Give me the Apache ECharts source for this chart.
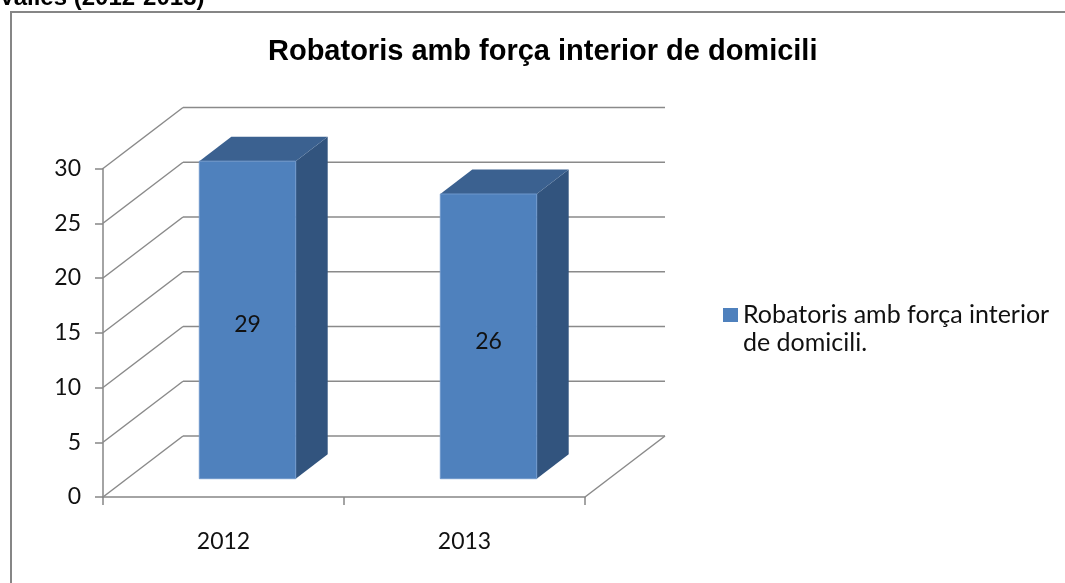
<!DOCTYPE html>
<html>
<head>
<meta charset="utf-8">
<title>Robatoris amb força interior de domicili</title>
<script src="https://cdn.jsdelivr.net/npm/echarts@6/dist/echarts.min.js"></script>
<style>
  html, body { margin: 0; padding: 0; background: #fff; }
  #chart { width: 1065px; height: 583px; }
</style>
</head>
<body>
<div id="chart"></div>
<script>
// dades
var years = ['2012', '2013'];
var robatoris = [29, 26];
var yTicks = [0, 5, 10, 15, 20, 25, 30];
var serieNom = 'Robatoris amb força interior de domicili.';

// perspectiva de la paret del fons (px)
var OX = 80, OY = -61;
var FRONT = 0.3, DEPTH = 0.4, BAR_W = 0.4;

var chart = echarts.init(document.getElementById('chart'));

var wallItem = function (params, api) {
    var cs = params.coordSys;
    var v = api.value(1);
    var y = api.coord([0, v])[1];
    var x0 = cs.x, x1 = cs.x + cs.width;
    var st = { stroke: '#8a8a8a', lineWidth: 1.5 };
    var kids = [
        { type: 'line', shape: { x1: x0, y1: y, x2: x0 + OX, y2: y + OY }, style: st },
        { type: 'line', shape: { x1: x0 + OX, y1: y + OY, x2: x1 + OX, y2: y + OY }, style: st }
    ];
    if (v === 0) {
        kids.push({ type: 'line', shape: { x1: x1, y1: y, x2: x1 + OX, y2: y + OY }, style: st });
    }
    return { type: 'group', children: kids };
};

var barItem = function (params, api) {
    var idx = api.value(0);
    var v = api.value(1);
    var cx = api.coord([idx, 0])[0];
    var bw = api.size([1, 0])[0];
    var yb = api.coord([idx, 0])[1] + FRONT * OY;
    var yt = api.coord([idx, v])[1] + FRONT * OY;
    var xl = cx - bw * BAR_W / 2 + FRONT * OX;
    var xr = cx + bw * BAR_W / 2 + FRONT * OX;
    var dx = DEPTH * OX, dy = DEPTH * OY;
    return {
        type: 'group',
        children: [
            { type: 'polygon', shape: { points: [[xr, yt], [xr + dx, yt + dy], [xr + dx, yb + dy], [xr, yb]] },
              style: { fill: '#32547e' } },
            { type: 'polygon', shape: { points: [[xl, yt], [xr, yt], [xr + dx, yt + dy], [xl + dx, yt + dy]] },
              style: { fill: '#3b6190' } },
            { type: 'rect', shape: { x: xl, y: yt, width: xr - xl, height: yb - yt },
              style: { fill: '#4f81bd', stroke: '#6f98cc', lineWidth: 1 } },
            { type: 'text', z2: 10,
              style: { text: String(v), x: (xl + xr) / 2, y: (yt + yb) / 2 + 5,
                       align: 'center', verticalAlign: 'middle',
                       font: '23px Lato', fill: '#111' } }
        ]
    };
};

var option = {
    animation: false,
    title: {
        text: 'Robatoris amb força interior de domicili',
        left: 268,
        top: 37,
        padding: 0,
        textStyle: { fontFamily: 'Liberation Sans', fontWeight: 'bold', fontSize: 29, color: '#000' }
    },
    graphic: [
        { type: 'text', left: -1, top: -14,
          style: { text: 'Vallès (2012-2013)', font: 'bold 24px "Liberation Sans"', fill: '#000' } },
        { type: 'rect', shape: { x: 11, y: 12, width: 1100, height: 620 },
          style: { fill: 'none', stroke: '#868686', lineWidth: 2 } }
    ],
    legend: {
        data: [serieNom],
        left: 723,
        top: 301,
        padding: 0,
        orient: 'vertical',
        // quadrat a la part de dalt, alineat amb la primera línia
        icon: 'path://M0,0H15V14H0ZM0,42L0.01,42',
        itemWidth: 15,
        itemHeight: 42,
        formatter: function (name) { return name.replace(' de domicili.', '\nde domicili.'); },
        textStyle: { fontFamily: 'Lato', fontSize: 25, color: '#111', lineHeight: 28 }
    },
    grid: { left: 103, top: 168.5, right: 480, bottom: 86 },
    xAxis: {
        type: 'category',
        data: years,
        axisLine: { lineStyle: { color: '#868686', width: 1.5 } },
        axisTick: { show: true, length: 8, lineStyle: { color: '#868686', width: 1.5 } },
        axisLabel: { margin: 33, fontFamily: 'Lato', fontSize: 23, color: '#111' },
        splitLine: { show: false }
    },
    yAxis: {
        type: 'value',
        min: 0,
        max: 30,
        interval: 5,
        axisLine: { show: true, lineStyle: { color: '#868686', width: 1.5 } },
        axisTick: { show: true, length: 8, lineStyle: { color: '#868686', width: 1.5 } },
        axisLabel: { margin: 22, fontFamily: 'Lato', fontSize: 23, color: '#111' },
        splitLine: { show: false }
    },
    series: [
        {
            name: 'paret',
            type: 'custom',
            renderItem: wallItem,
            encode: { x: 0, y: 1 },
            data: yTicks.map(function (v) { return [0, v]; }),
            z: 1,
            silent: true
        },
        {
            name: serieNom,
            type: 'custom',
            renderItem: barItem,
            encode: { x: 0, y: 1 },
            itemStyle: { color: '#4f81bd' },
            data: robatoris.map(function (v, i) { return [i, v]; }),
            z: 3
        }
    ]
};

chart.setOption(option);
window.addEventListener('resize', function () {
    chart.resize();
});
</script>
</body>
</html>
